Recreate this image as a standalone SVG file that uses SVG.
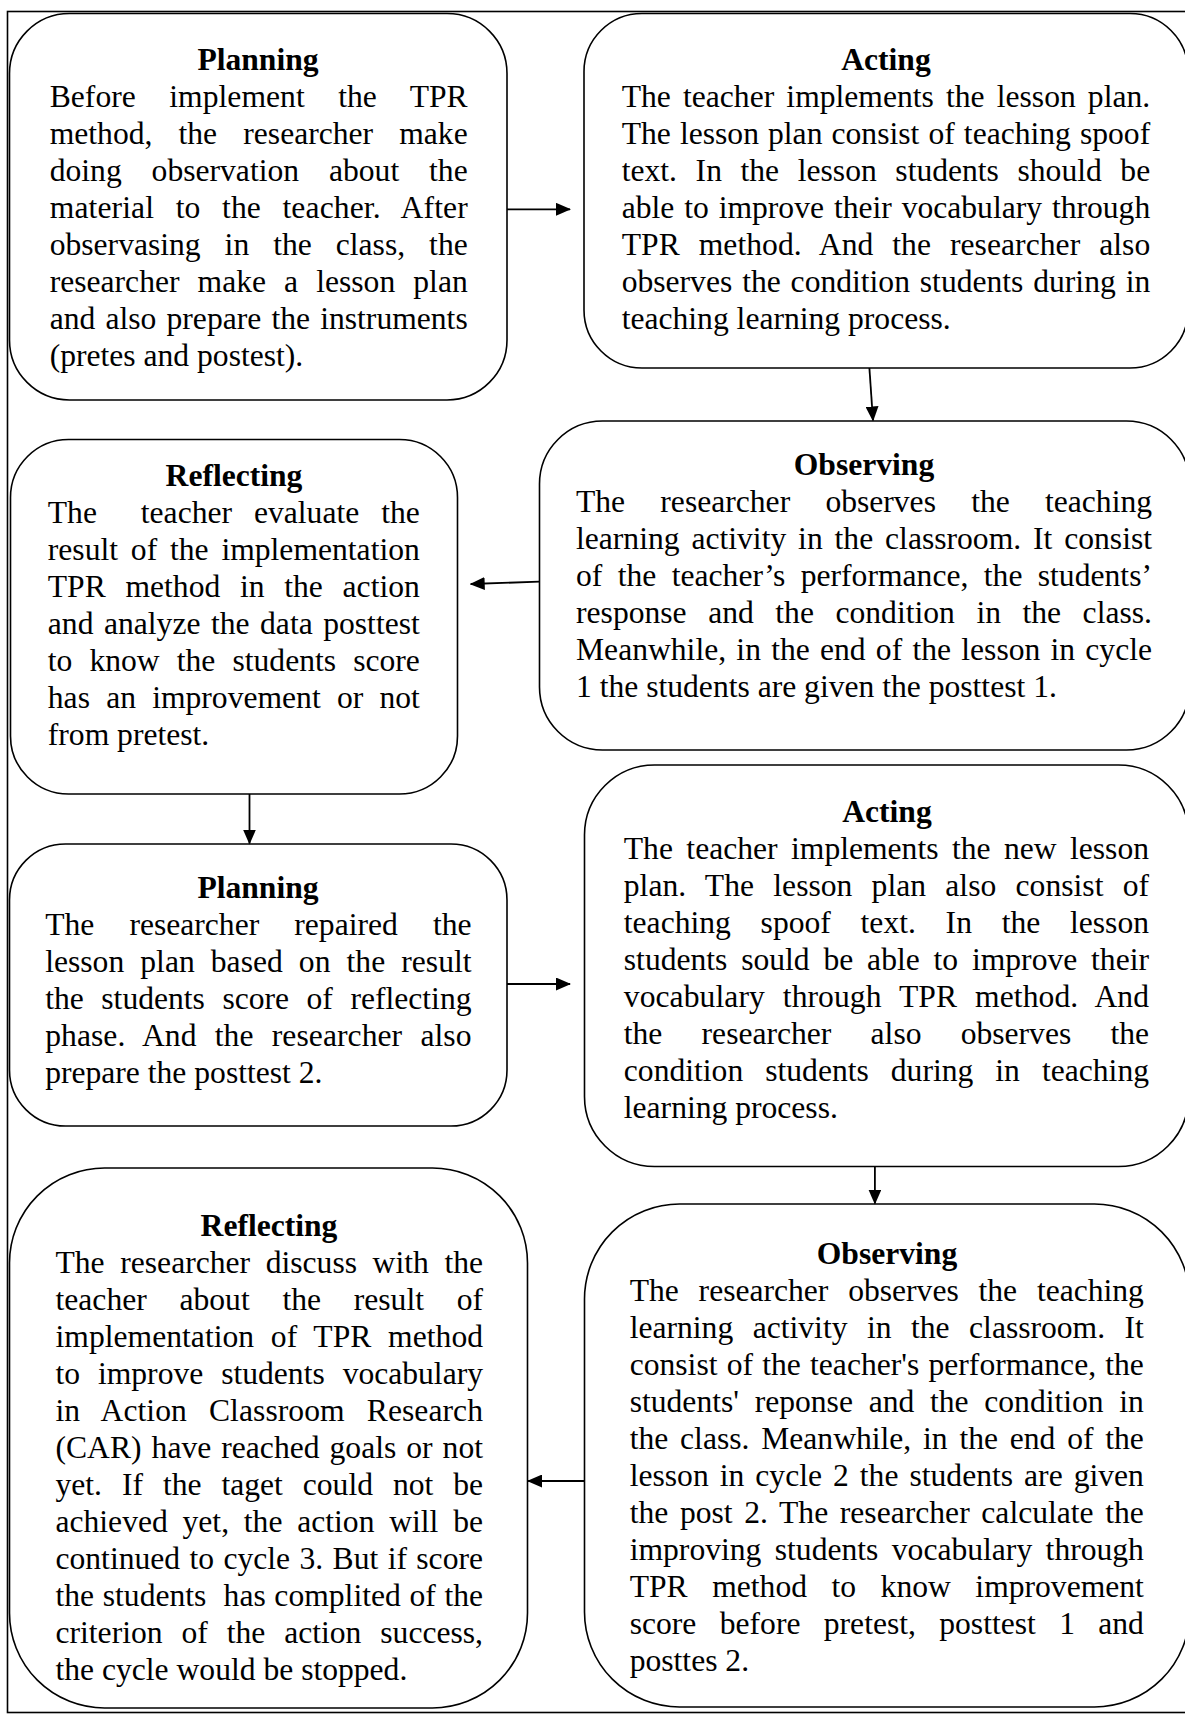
<svg xmlns="http://www.w3.org/2000/svg" width="1185" height="1714" viewBox="0 0 1185 1714">
<style>
.box{fill:#fff;stroke:#000;stroke-width:1.6}
.frame{fill:#fff;stroke:#000;stroke-width:1.6}
.t{font-family:"Liberation Serif","Times New Roman",serif;font-size:31.6px;font-weight:bold;text-anchor:middle;fill:#000}
.b{font-family:"Liberation Serif","Times New Roman",serif;font-size:31.6px;fill:#000}
.c{stroke:#000;stroke-width:1.8;fill:none;marker-end:url(#ah)}
</style>
<defs>
<marker id="ah" markerUnits="userSpaceOnUse" markerWidth="15" markerHeight="13" viewBox="0 0 15 13" refX="14" refY="6.5" orient="auto">
<path d="M0,0 L15,6.5 L0,13 z" fill="#000"/>
</marker>
</defs>
<rect class="frame" x="7.5" y="11.5" width="1200" height="1701"/>

<g id="node-planning-1">
<rect class="box" x="9.5" y="13.5" width="497.5" height="386.5" rx="60" ry="60"/>
<text class="t" x="258" y="70">Planning</text>
<text class="b" x="49.7" y="107" textLength="418" lengthAdjust="spacing" style="word-spacing:25.5px">Before implement the TPR</text>
<text class="b" x="49.7" y="144" textLength="418" lengthAdjust="spacing" style="word-spacing:18.2px">method, the researcher make</text>
<text class="b" x="49.7" y="181" textLength="418" lengthAdjust="spacing" style="word-spacing:22px">doing observation about the</text>
<text class="b" x="49.7" y="218" textLength="418" lengthAdjust="spacing" style="word-spacing:13.5px">material to the teacher. After</text>
<text class="b" x="49.7" y="255" textLength="418" lengthAdjust="spacing" style="word-spacing:16.1px">observasing in the class, the</text>
<text class="b" x="49.7" y="292" textLength="418" lengthAdjust="spacing" style="word-spacing:10.2px">researcher make a lesson plan</text>
<text class="b" x="49.7" y="329" textLength="418" lengthAdjust="spacing" style="word-spacing:2.2px">and also prepare the instruments</text>
<text class="b" x="49.7" y="366">(pretes and postest).</text>
</g>

<g id="node-acting-1">
<rect class="box" x="584" y="13.5" width="604" height="354.5" rx="58" ry="58"/>
<text class="t" x="886" y="70">Acting</text>
<text class="b" x="621.7" y="107" textLength="528.5" lengthAdjust="spacing" style="word-spacing:4.2px">The teacher implements the lesson plan.</text>
<text class="b" x="621.7" y="144" textLength="528.5" lengthAdjust="spacing" style="word-spacing:1.2px">The lesson plan consist of teaching spoof</text>
<text class="b" x="621.7" y="181" textLength="528.5" lengthAdjust="spacing" style="word-spacing:10.7px">text. In the lesson students should be</text>
<text class="b" x="621.7" y="218" textLength="528.5" lengthAdjust="spacing" style="word-spacing:2px">able to improve their vocabulary through</text>
<text class="b" x="621.7" y="255" textLength="528.5" lengthAdjust="spacing" style="word-spacing:10.9px">TPR method. And the researcher also</text>
<text class="b" x="621.7" y="292" textLength="528.5" lengthAdjust="spacing" style="word-spacing:2px">observes the condition students during in</text>
<text class="b" x="621.7" y="329">teaching learning process.</text>
</g>

<g id="node-observing-1">
<rect class="box" x="539.5" y="421" width="650" height="329" rx="63" ry="63"/>
<text class="t" x="864" y="475">Observing</text>
<text class="b" x="576" y="512" textLength="576" lengthAdjust="spacing" style="word-spacing:27.3px">The researcher observes the teaching</text>
<text class="b" x="576" y="549" textLength="576" lengthAdjust="spacing" style="word-spacing:4px">learning activity in the classroom. It consist</text>
<text class="b" x="576" y="586" textLength="576" lengthAdjust="spacing" style="word-spacing:7.4px">of the teacher’s performance, the students’</text>
<text class="b" x="576" y="623" textLength="576" lengthAdjust="spacing" style="word-spacing:13.6px">response and the condition in the class.</text>
<text class="b" x="576" y="660" textLength="576" lengthAdjust="spacing" style="word-spacing:2.3px">Meanwhile, in the end of the lesson in cycle</text>
<text class="b" x="576" y="697">1 the students are given the posttest 1.</text>
</g>

<g id="node-reflecting-1">
<rect class="box" x="10.5" y="439.5" width="447" height="354.5" rx="58" ry="58"/>
<text class="t" x="234" y="486">Reflecting</text>
<text class="b" x="47.8" y="523" textLength="372" lengthAdjust="spacing" style="word-spacing:14px">The&#160; teacher evaluate the</text>
<text class="b" x="47.8" y="560" textLength="372" lengthAdjust="spacing" style="word-spacing:4.9px">result of the implementation</text>
<text class="b" x="47.8" y="597" textLength="372" lengthAdjust="spacing" style="word-spacing:11.8px">TPR method in the action</text>
<text class="b" x="47.8" y="634" textLength="372" lengthAdjust="spacing" style="word-spacing:2.6px">and analyze the data posttest</text>
<text class="b" x="47.8" y="671" textLength="372" lengthAdjust="spacing" style="word-spacing:9.2px">to know the students score</text>
<text class="b" x="47.8" y="708" textLength="372" lengthAdjust="spacing" style="word-spacing:8.3px">has an improvement or not</text>
<text class="b" x="47.8" y="745">from pretest.</text>
</g>

<g id="node-planning-2">
<rect class="box" x="9.5" y="844" width="497.5" height="282" rx="56" ry="56"/>
<text class="t" x="258" y="897.5">Planning</text>
<text class="b" x="45.2" y="934.5" textLength="426.3" lengthAdjust="spacing" style="word-spacing:27.2px">The researcher repaired the</text>
<text class="b" x="45.2" y="971.5" textLength="426.3" lengthAdjust="spacing" style="word-spacing:8.2px">lesson plan based on the result</text>
<text class="b" x="45.2" y="1008.5" textLength="426.3" lengthAdjust="spacing" style="word-spacing:9.6px">the students score of reflecting</text>
<text class="b" x="45.2" y="1045.5" textLength="426.3" lengthAdjust="spacing" style="word-spacing:10.3px">phase. And the researcher also</text>
<text class="b" x="45.2" y="1082.5">prepare the posttest 2.</text>
</g>

<g id="node-acting-2">
<rect class="box" x="584.5" y="765" width="604" height="401.5" rx="70" ry="70"/>
<text class="t" x="887" y="822">Acting</text>
<text class="b" x="623.8" y="859" textLength="525.2" lengthAdjust="spacing" style="word-spacing:5.5px">The teacher implements the new lesson</text>
<text class="b" x="623.8" y="896" textLength="525.2" lengthAdjust="spacing" style="word-spacing:11.3px">plan. The lesson plan also consist of</text>
<text class="b" x="623.8" y="933" textLength="525.2" lengthAdjust="spacing" style="word-spacing:21.8px">teaching spoof text. In the lesson</text>
<text class="b" x="623.8" y="970" textLength="525.2" lengthAdjust="spacing" style="word-spacing:5.9px">students sould be able to improve their</text>
<text class="b" x="623.8" y="1007" textLength="525.2" lengthAdjust="spacing" style="word-spacing:10px">vocabulary through TPR method. And</text>
<text class="b" x="623.8" y="1044" textLength="525.2" lengthAdjust="spacing" style="word-spacing:31.3px">the researcher also observes the</text>
<text class="b" x="623.8" y="1081" textLength="525.2" lengthAdjust="spacing" style="word-spacing:14.1px">condition students during in teaching</text>
<text class="b" x="623.8" y="1118">learning process.</text>
</g>

<g id="node-reflecting-2">
<rect class="box" x="9.5" y="1168" width="518" height="540" rx="95" ry="95"/>
<text class="t" x="269" y="1236">Reflecting</text>
<text class="b" x="55.5" y="1273" textLength="427.5" lengthAdjust="spacing" style="word-spacing:7.7px">The researcher discuss with the</text>
<text class="b" x="55.5" y="1310" textLength="427.5" lengthAdjust="spacing" style="word-spacing:24.8px">teacher about the result of</text>
<text class="b" x="55.5" y="1347" textLength="427.5" lengthAdjust="spacing" style="word-spacing:8.8px">implementation of TPR method</text>
<text class="b" x="55.5" y="1384" textLength="427.5" lengthAdjust="spacing" style="word-spacing:10px">to improve students vocabulary</text>
<text class="b" x="55.5" y="1421" textLength="427.5" lengthAdjust="spacing" style="word-spacing:14.1px">in Action Classroom Research</text>
<text class="b" x="55.5" y="1458" textLength="427.5" lengthAdjust="spacing" style="word-spacing:2.1px">(CAR) have reached goals or not</text>
<text class="b" x="55.5" y="1495" textLength="427.5" lengthAdjust="spacing" style="word-spacing:12px">yet. If the taget could not be</text>
<text class="b" x="55.5" y="1532" textLength="427.5" lengthAdjust="spacing" style="word-spacing:6.9px">achieved yet, the action will be</text>
<text class="b" x="55.5" y="1569" textLength="427.5" lengthAdjust="spacing" style="word-spacing:1.5px">continued to cycle 3. But if score</text>
<text class="b" x="55.5" y="1606" textLength="427.5" lengthAdjust="spacing" style="word-spacing:0.7px">the students&#160; has complited of the</text>
<text class="b" x="55.5" y="1643" textLength="427.5" lengthAdjust="spacing" style="word-spacing:11px">criterion of the action success,</text>
<text class="b" x="55.5" y="1680">the cycle would be stopped.</text>
</g>

<g id="node-observing-2">
<rect class="box" x="584.5" y="1204" width="605" height="503" rx="95" ry="95"/>
<text class="t" x="887" y="1264">Observing</text>
<text class="b" x="629.7" y="1301" textLength="514.2" lengthAdjust="spacing" style="word-spacing:11.9px">The researcher observes the teaching</text>
<text class="b" x="629.7" y="1338" textLength="514.2" lengthAdjust="spacing" style="word-spacing:11.6px">learning activity in the classroom. It</text>
<text class="b" x="629.7" y="1375" textLength="514.2" lengthAdjust="spacing" style="word-spacing:1.3px">consist of the teacher's performance, the</text>
<text class="b" x="629.7" y="1412" textLength="514.2" lengthAdjust="spacing" style="word-spacing:7.8px">students' reponse and the condition in</text>
<text class="b" x="629.7" y="1449" textLength="514.2" lengthAdjust="spacing" style="word-spacing:3.9px">the class. Meanwhile, in the end of the</text>
<text class="b" x="629.7" y="1486" textLength="514.2" lengthAdjust="spacing" style="word-spacing:3.1px">lesson in cycle 2 the students are given</text>
<text class="b" x="629.7" y="1523" textLength="514.2" lengthAdjust="spacing" style="word-spacing:3.7px">the post 2. The researcher calculate the</text>
<text class="b" x="629.7" y="1560" textLength="514.2" lengthAdjust="spacing" style="word-spacing:5.5px">improving students vocabulary through</text>
<text class="b" x="629.7" y="1597" textLength="514.2" lengthAdjust="spacing" style="word-spacing:16.6px">TPR method to know improvement</text>
<text class="b" x="629.7" y="1634" textLength="514.2" lengthAdjust="spacing" style="word-spacing:15.4px">score before pretest, posttest 1 and</text>
<text class="b" x="629.7" y="1671">posttes 2.</text>
</g>

<g id="connectors">
<line class="c" x1="507" y1="209.3" x2="570" y2="209.3"/>
<line class="c" x1="869.4" y1="368" x2="873" y2="420.5"/>
<line class="c" x1="539.5" y1="581.7" x2="470.7" y2="584"/>
<line class="c" x1="249.5" y1="794" x2="249.5" y2="843.5"/>
<line class="c" x1="507" y1="984" x2="570" y2="984"/>
<line class="c" x1="874.9" y1="1166.5" x2="874.9" y2="1203.5"/>
<line class="c" x1="584.5" y1="1481" x2="528" y2="1481"/>
</g>
</svg>
